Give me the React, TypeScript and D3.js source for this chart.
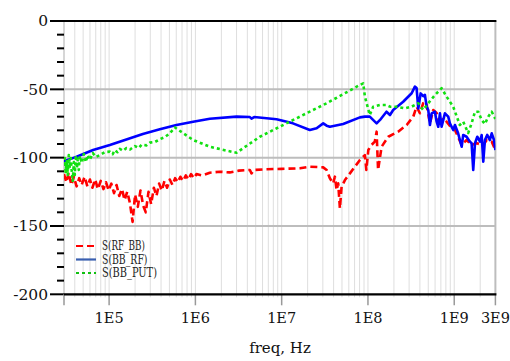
import React from "react";
import * as d3 from "d3";

// S(RF_BB) — red dashed
const rfbbFreq = [3.0e4, 3.2e4, 3.4e4, 3.65e4, 3.9e4, 4.2e4, 4.5e4, 4.8e4, 5.2e4, 5.6e4, 6.0e4, 6.4e4, 6.9e4, 7.4e4, 8.0e4, 8.6e4, 9.2e4, 9.9e4, 1.06e5, 1.14e5, 1.22e5, 1.31e5, 1.41e5, 1.51e5, 1.62e5, 1.74e5, 1.87e5, 2.0e5, 2.15e5, 2.31e5, 2.48e5, 2.66e5, 2.86e5, 3.07e5, 3.3e5, 3.54e5, 3.8e5, 4.08e5, 4.38e5, 4.7e5, 5.05e5, 5.42e5, 5.82e5, 6.25e5, 6.7e5, 7.2e5, 7.75e5, 8.3e5, 8.9e5, 9.6e5, 1.03e6, 1.2e6, 1.47e6,
  1.92e6, 2.5e6, 3.2e6, 4.28e6, 4.47e6, 4.8e6, 6.64e6, 1.0e7, 1.63e7, 2.12e7, 3.03e7, 3.32e7, 3.62e7,
  3.95e7, 4.14e7, 4.33e7, 4.52e7, 4.73e7, 4.95e7, 5.41e7, 6.18e7, 8.07e7, 9.22e7, 9.58e7, 1.01e8, 1.1e8, 1.2e8, 1.26e8, 1.31e8, 1.44e8, 1.72e8, 2.24e8, 2.81e8, 3.35e8, 3.66e8, 4.0e8, 4.37e8, 4.7e8, 4.9e8, 5.23e8, 5.71e8, 6.25e8, 6.83e8, 7.45e8, 8.16e8, 8.91e8, 1.02e9, 1.22e9, 1.39e9, 1.59e9, 1.82e9, 2.17e9, 2.38e9, 2.72e9, 3.0e9];
const rfbbDb = [-112, -118, -111, -120, -114, -121, -115, -120, -114, -121, -116, -122, -116, -123, -117, -123, -118, -124, -119, -126, -120, -128, -123, -131, -125, -133, -147, -127, -136, -124, -135, -140, -125, -134, -122, -128, -119, -124, -117, -122, -116, -120, -115, -118, -114, -117, -113, -116, -112, -115, -112, -113, -111,
  -110.3, -110.8, -109.5, -109.0, -111.5, -109, -108.5, -108.2, -107.8, -106.6, -107.1, -109.0, -115.1,
  -118.8, -113.9, -123.7, -118.8, -137.1, -121.3, -116.4, -111.5, -101.7, -98.1, -109.0, -94.4, -90.7, -88.3, -81.0, -109.0, -92.0, -84.7, -81.0, -76.1, -70.0, -62.7, -67.5, -60.2, -59.1, -65.1, -74.9, -65.1, -67.3, -77.4, -71, -73.7, -76.8, -79.8, -90.7, -87.1, -90.7, -89.5, -90.7, -87.1, -88.3, -94.4];

// S(BB_RF) — blue solid
const bbrfFreq = [3.0e4, 3.06e4, 4.0e4, 4.2e4, 6.52e4, 1.02e5, 2.46e5, 3.87e5, 6.04e5, 9.42e5, 1.47e6, 3.0e6, 4.28e6, 4.47e6, 4.8e6, 8.73e6, 1.35e7, 2.12e7, 2.54e7, 3.03e7, 3.32e7, 3.62e7, 5.16e7, 8.07e7, 9.22e7, 1.05e8, 1.26e8, 1.38e8, 1.64e8, 1.8e8, 1.96e8, 2.56e8, 3.21e8,
  3.5e8, 3.66e8, 3.83e8, 4.08e8, 4.37e8, 4.57e8, 4.79e8, 5.0e8, 5.23e8, 5.47e8, 5.97e8, 6.25e8, 6.53e8, 6.83e8, 7.14e8, 7.8e8, 8.52e8, 8.91e8, 9.73e8, 1.02e9, 1.11e9, 1.22e9, 1.27e9, 1.39e9, 1.52e9, 1.59e9, 1.66e9, 1.74e9, 1.85e9, 1.99e9, 2.08e9, 2.17e9, 2.27e9, 2.41e9, 2.59e9, 2.72e9, 2.89e9, 3.0e9];
const bbrfDb = [-101.5, -102.4, -99.8, -99.3, -94.4, -90.7, -82.7, -79.3, -76.1, -73.7, -71.5, -70.0, -70.3, -71.5, -70.3, -71.9, -74.9, -79.8, -78.5, -74.9, -76.6, -77.4, -75.4, -70.5, -70.0, -70.0, -74.9, -72.4, -66.4, -68.8, -65.1, -59.1, -52.9,
  -48, -49, -64, -53, -55, -54, -62.7, -65.1, -76.1, -67.6, -66.4, -73.7, -77.4, -67.6, -77.4, -67.6, -70, -74.9, -79.8, -76.1, -82.2, -92, -83.4, -84.7, -88.3, -89.5, -109, -89.5, -84.7, -88.3, -83.4, -103, -87.1, -83.4, -87.1, -82.2, -87.1, -94.4];

// S(BB_PUT) — green dotted
const bbputFreq = [3.0e4, 3.06e4, 3.13e4, 3.24e4, 3.32e4, 3.41e4, 3.5e4, 3.6e4, 3.68e4, 3.79e4, 3.9e4, 4.0e4, 4.11e4, 4.23e4, 4.33e4, 4.45e4, 4.57e4, 4.83e4, 5.09e4, 5.37e4, 5.66e4, 5.97e4, 6.47e4, 7.01e4, 7.8e4, 8.91e4,
  1.02e5, 1.1e5, 1.16e5, 1.25e5, 1.33e5, 1.45e5, 1.59e5, 1.75e5, 1.99e5, 2.2e5, 2.39e5, 2.7e5, 2.97e5, 3.4e5, 3.87e5, 4.4e5, 5.06e5, 5.78e5,
  9.42e5, 1.47e6, 2.3e6, 3.0e6, 5.59e6, 1.36e7, 3.32e7, 8.07e7, 8.81e7, 9.22e7, 1.05e8, 1.15e8, 1.38e8, 1.64e8, 1.8e8, 2.15e8, 2.68e8, 3.21e8, 3.83e8, 4.37e8, 5.0e8, 5.97e8, 7.14e8, 8.16e8, 9.73e8, 1.16e9, 1.27e9, 1.45e9, 1.59e9, 1.74e9, 1.9e9, 2.08e9, 2.27e9, 2.48e9, 2.72e9, 3.0e9];
const bbputDb = [-105.4, -100.3, -110.5, -101.7, -112.7, -98.1, -107.6, -100.3, -109, -117.1, -103.2, -112.7, -98.1, -107.6, -101, -109, -98.8, -103.9, -97.3, -103.2, -98.1, -101.7, -96.6, -99.5, -98.1, -95.9,
  -95.6, -97.5, -94.5, -96, -93.5, -95, -93, -94, -91.5, -93, -90.5, -91, -89, -88.5, -86.5, -85, -82.2, -77.9,
  -87.1, -92, -94.9, -96.4, -84.7, -72.4, -60.2, -46.8, -45.6, -55.4, -68.8, -62.7, -61.5, -61.5, -62.7, -62.7, -63.9, -62.7, -60.2, -65.1, -60.2, -54.2, -49.2, -55.4, -62.7, -76.1, -73.7, -82, -74.9, -66.4, -66.4, -72.4, -75.4, -70, -66.4, -71.7];

const xTickValues = [1e5, 1e6, 1e7, 1e8, 1e9, 3e9];
const xTickLabels = ["1E5", "1E6", "1E7", "1E8", "1E9", "3E9"];
const yTickValues = [0, -50, -100, -150, -200];
const legendLabels = ["S(RF_BB)", "S(BB_RF)", "S(BB_PUT)"];
const legendWidths = [43, 45.5, 55];

const W = 510, H = 361;
const L = 64, R = 495.4, T = 21, B = 294.3;

export default function App() {
  const x = d3.scaleLog().domain([3e4, 3e9]).range([L, R]);
  const y = d3.scaleLinear().domain([-200, 0]).range([B, T]);
  const line = d3.line<[number, number]>().x(d => x(d[0])).y(d => y(d[1]));
  const zip = (f: number[], v: number[]) => f.map((ff, i) => [ff, v[i]] as [number, number]);

  const minor: number[] = [];
  for (let e = 4; e <= 9; e++) {
    for (let m = 1; m <= 9; m++) {
      const v = m * Math.pow(10, e);
      if (v > 3e4 && v < 3e9) minor.push(v);
    }
  }
  const yMinor = d3.range(-190, 0, 10).filter(v => v % 50 !== 0);

  const series = [
    { data: zip(rfbbFreq, rfbbDb), color: "#ff0000", dash: "7,4", legendColor: "#ff0000" },
    { data: zip(bbrfFreq, bbrfDb), color: "#0000ff", dash: "", legendColor: "#3a5fb0" },
    { data: zip(bbputFreq, bbputDb), color: "#11e011", dash: "3,3", legendColor: "#11c011" },
  ];

  const font = "'DejaVu Serif', serif";

  return (
    <svg width={W} height={H} style={{ position: "absolute", left: 0, top: 0 }}>
      <rect width={W} height={H} fill="#fff" />
      {minor.map(v => (
        <line key={"g" + v} x1={x(v)} x2={x(v)} y1={T} y2={B + 3} stroke="#dedede" strokeWidth={1} />
      ))}
      {[-50, -100, -150].map(v => (
        <line key={"h" + v} x1={L} x2={R} y1={y(v)} y2={y(v)} stroke="#bdbdbd" strokeWidth={2} />
      ))}
      <line x1={R} x2={R} y1={T} y2={B} stroke="#bdbdbd" strokeWidth={2} />
      <line x1={L} x2={L} y1={T} y2={B} stroke="#c8c8c8" strokeWidth={1.5} />
      {yMinor.map(v => (
        <line key={"ym" + v} x1={57} x2={L} y1={y(v)} y2={y(v)} stroke="#000" strokeWidth={2} />
      ))}
      {yTickValues.map(v => (
        <g key={"yt" + v}>
          <line x1={50} x2={L} y1={y(v)} y2={y(v)} stroke="#000" strokeWidth={2} />
          <text x={48} y={y(v)} dy="0.35em" textAnchor="end" fontFamily={font} fontSize={15.5} fill="#111">{v}</text>
        </g>
      ))}
      {[3e4, ...xTickValues].map(v => (
        <line key={"xt" + v} x1={x(v)} x2={x(v)} y1={B} y2={B + 11} stroke="#999" strokeWidth={1.5} />
      ))}
      {xTickValues.map((v, i) => (
        <text key={"xl" + v} x={x(v)} y={323} textAnchor="middle" fontFamily={font} fontSize={14.5} fill="#111">{xTickLabels[i]}</text>
      ))}
      <line x1={L} x2={R + 1} y1={T} y2={T} stroke="#000" strokeWidth={2.2} />
      <line x1={L} x2={R + 1} y1={B} y2={B} stroke="#000" strokeWidth={2.2} />
      <defs>
        <clipPath id="clip"><rect x={L} y={T} width={R - L} height={B - T} /></clipPath>
      </defs>
      <g clipPath="url(#clip)">
        {series.map((s, i) => (
          <path key={"s" + i} d={line(s.data) || ""} fill="none" stroke={s.color} strokeWidth={2.6} strokeDasharray={s.dash || undefined} strokeLinejoin="round" />
        ))}
      </g>
      {series.map((s, i) => (
        <g key={"lg" + i}>
          <line x1={76} x2={96} y1={246 + i * 13.5} y2={246 + i * 13.5} stroke={s.legendColor} strokeWidth={2.2} strokeDasharray={s.dash || undefined} />
          <text x={102} y={246 + i * 13.5} dy="0.35em" fontFamily={font} fontSize={12} textLength={legendWidths[i]} lengthAdjust="spacingAndGlyphs" fill="#222">{legendLabels[i]}</text>
        </g>
      ))}
      <text x={280} y={353} textAnchor="middle" fontFamily={font} fontSize={15} fill="#111">freq, Hz</text>
    </svg>
  );
}
